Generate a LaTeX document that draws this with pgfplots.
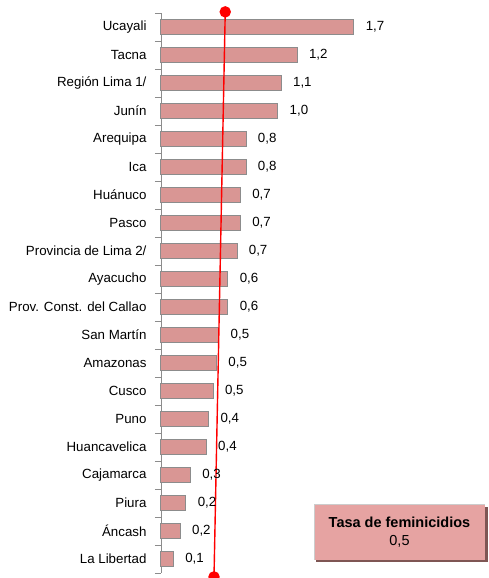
\documentclass[border=0pt]{standalone}
\usepackage{pgfplots}
\pgfplotsset{compat=1.18}
\usepackage{pgfplotstable}
\usepackage{fontspec}
\setmainfont{Liberation Sans}

\definecolor{barfill}{HTML}{D99694}
\definecolor{barline}{HTML}{8C8C8C}
\definecolor{boxfill}{HTML}{E6A3A2}
\definecolor{boxshadow}{HTML}{7F5654}

% y = posicion (0 = abajo), x = tasa, lab = etiqueta mostrada
\pgfplotstableread{
y x lab
19 1.70 1,7
18 1.20 1,2
17 1.06 1,1
16 1.03 1,0
15 0.75 0,8
14 0.75 0,8
13 0.70 0,7
12 0.70 0,7
11 0.67 0,7
10 0.59 0,6
9 0.59 0,6
8 0.51 0,5
7 0.49 0,5
6 0.46 0,5
5 0.42 0,4
4 0.40 0,4
3 0.26 0,3
2 0.22 0,2
1 0.17 0,2
0 0.11 0,1
}\datos

\begin{document}
\begin{tikzpicture}
\begin{axis}[
  at={(0,0)}, anchor=south west,
  scale only axis, width=317.8pt, height=560pt,
  xmin=0, xmax=2.8, ymin=-0.5, ymax=19.5,
  axis x line=none, axis y line*=left,
  axis line style={draw=gray!90, line width=0.8pt},
  ytick={0,...,19},
  yticklabels={La Libertad, Áncash, Piura, Cajamarca, Huancavelica, Puno, Cusco, Amazonas, San Martín, Prov. Const. del Callao, Ayacucho, Provincia de Lima 2/, Pasco, Huánuco, Ica, Arequipa, Junín, Región Lima 1/, Tacna, Ucayali},
  major tick length=0pt,
  minor ytick={-0.5,0.5,...,19.5},
  minor tick length=6pt,
  tick align=outside,
  minor tick style={draw=gray!90, line width=0.8pt},
  yticklabel style={font=\fontsize{13.3}{15}\selectfont, xshift=-11pt},
  clip=false,
]
\addplot[xbar, bar width=15pt, fill=barfill, draw=barline, line width=1pt,
  nodes near coords, point meta=explicit symbolic,
  nodes near coords style={anchor=west, xshift=8pt, font=\fontsize{13.3}{15}\selectfont, text=black}]
  table[x=x, y=y, meta=lab]{\datos};
\addplot[red, line width=1.4pt, mark=*, mark size=5pt, mark options={fill=red, draw=red}]
  coordinates {(0.566,19.54) (0.467,-0.64)};
\end{axis}
\fill[boxshadow] (155pt,11pt) rectangle (327pt,66pt);
\fill[boxfill] (153pt,13pt) rectangle (324pt,69pt);
\draw[gray!40, line width=0.8pt] (153pt,13pt) -- (153pt,69pt) -- (324pt,69pt);
\node[align=center, font=\fontsize{14.5}{18}\selectfont] at (238.5pt,41pt)
  {\textbf{Tasa de feminicidios}\\0,5};
\pgfresetboundingbox
\path[use as bounding box] (-161pt,-5pt) rectangle (328pt,573pt);
\end{tikzpicture}
\end{document}
